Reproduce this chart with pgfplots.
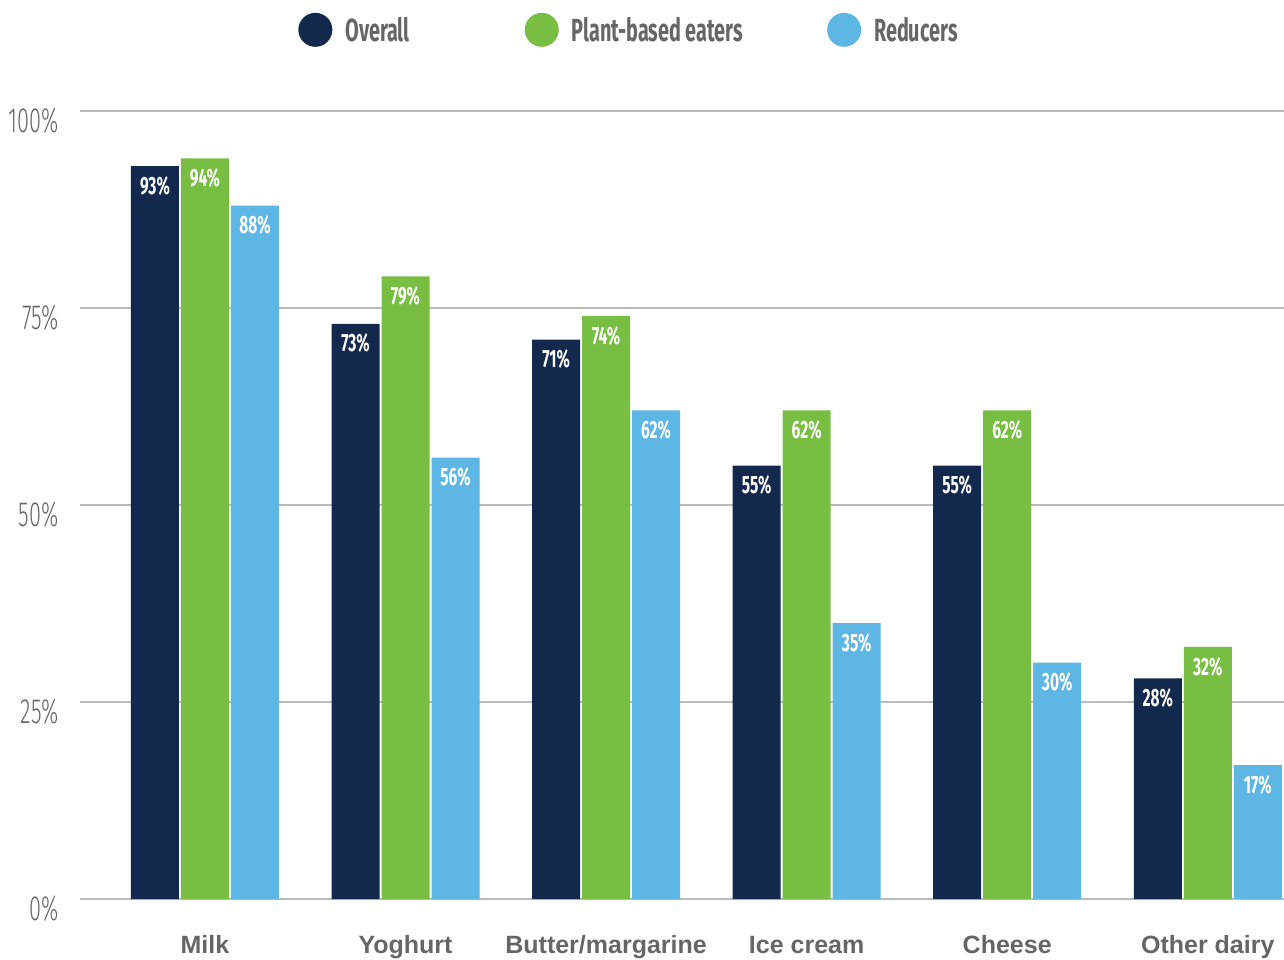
\documentclass[border=0pt]{standalone}
\usepackage{pgfplots}
\pgfplotsset{compat=1.18}
\usepackage{fontspec}
\setmainfont{Liberation Sans}
\newfontfamily\cond[FakeStretch=0.62]{Fira Sans}
\newfontfamily\condl[FakeStretch=0.62]{Fira Sans Light}
\definecolor{navy}{HTML}{12284C}
\definecolor{grn}{HTML}{78BE43}
\definecolor{lblue}{HTML}{5DB6E4}
\definecolor{txtgray}{HTML}{666666}
\definecolor{gridgray}{HTML}{BBBBBB}
\begin{document}
\begin{tikzpicture}
\path[use as bounding box] (-80pt,-61pt) rectangle (1204pt,899pt);
\begin{axis}[
  at={(0pt,0pt)}, anchor=south west,
  scale only axis, width=1204pt, height=788pt,
  ymin=0, ymax=100,
  xmin=-0.623, xmax=5.38,
  ybar=2pt, bar width=48pt,
  xtick={0,1,2,3,4,5},
  xticklabels={Milk,Yoghurt,Butter/margarine,Ice cream,Cheese,Other dairy},
  ytick={0,25,50,75,100},
  yticklabels={0\%,25\%,50\%,75\%,100\%},
  ymajorgrids,
  grid style={draw=gridgray, line width=1.5pt},
  axis line style={draw=none},
  major tick length=0pt,
  /pgf/number format/assume math mode=true,
  yticklabel style={font=\fontsize{35}{35}\selectfont\condl, text=txtgray, anchor=east, xshift=-18pt, yshift=-10pt},
  xticklabel style={font=\fontsize{25}{25}\selectfont\bfseries, text=txtgray, anchor=base, yshift=-54pt},
  nodes near coords={\pgfmathprintnumber{\pgfplotspointmeta}\%},
  every node near coord/.append style={anchor=north, inner sep=0pt, yshift=-10pt, text=white, font=\fontsize{25}{25}\selectfont\cond\bfseries},
  legend columns=3,
  legend style={at={(0.456,1.103)}, anchor=center, draw=none, fill=none,
     font=\fontsize{32}{32}\selectfont\cond\bfseries, text=txtgray,
     /tikz/every odd column/.append style={column sep=11pt},
     /tikz/column 2/.style={column sep=113pt},
     /tikz/column 4/.style={column sep=82pt}},
  legend image code/.code={\fill (17pt,0pt) circle (17pt);},
  clip=false,
]
\addplot[fill=navy, draw=none] coordinates {(0,93) (1,73) (2,71) (3,55) (4,55) (5,28)};
\addlegendentry{Overall}
\addplot[fill=grn, draw=none] coordinates {(0,94) (1,79) (2,74) (3,62) (4,62) (5,32)};
\addlegendentry{Plant-based eaters}
\addplot[fill=lblue, draw=none] coordinates {(0,88) (1,56) (2,62) (3,35) (4,30) (5,17)};
\addlegendentry{Reducers}
\end{axis}
\end{tikzpicture}
\end{document}
